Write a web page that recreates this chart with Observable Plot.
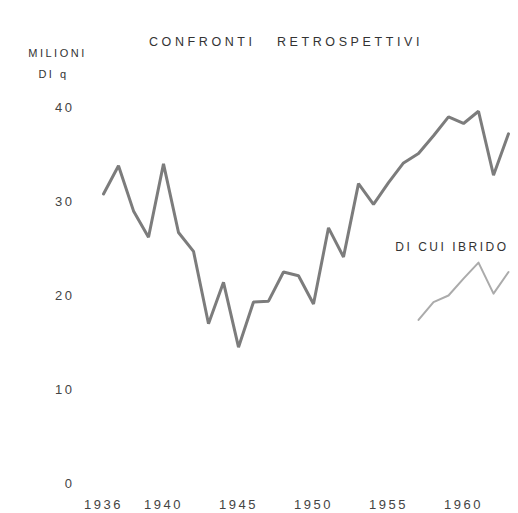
<!DOCTYPE html>
<html><head><meta charset="utf-8">
<script src="https://cdn.jsdelivr.net/npm/d3@7"></script>
<script src="https://cdn.jsdelivr.net/npm/@observablehq/plot@0.6"></script>
<style>
body{margin:0;background:#fff;}
svg text{letter-spacing:2.5px;}
svg .title text{letter-spacing:3.6px;}
</style>
</head><body>
<div id="chart"></div>
<script>
const years = [1936,1937,1938,1939,1940,1941,1942,1943,1944,1945,1946,1947,1948,1949,1950,1951,1952,1953,1954,1955,1956,1957,1958,1959,1960,1961,1962,1963];
const totale = [30.8,33.8,29.0,26.2,34.0,26.7,24.7,17.0,21.4,14.5,19.3,19.4,22.5,22.1,19.1,27.2,24.1,31.9,29.7,32.0,34.1,35.1,37.0,39.0,38.3,39.6,32.8,37.2];
const ibridoYears = [1957,1958,1959,1960,1961,1962,1963];
const ibrido = [17.4,19.3,20.0,21.8,23.5,20.2,22.5];
const xTicks = [1936,1940,1945,1950,1955,1960];
const yTicks = [0,10,20,30,40];
const title = "CONFRONTI\u00a0\u00a0\u00a0RETROSPETTIVI";
const unitLines = ["MILIONI", "DI q"];
const hybridLabel = "DI CUI IBRIDO";

const mainData = years.map((y,i)=>({year:y, value:totale[i]}));
const hybData = ibridoYears.map((y,i)=>({year:y, value:ibrido[i]}));
const lastHyb = hybData[hybData.length-1];
const maxHyb = d3.max(ibrido);

const chart = Plot.plot({
  width: 518,
  height: 513,
  marginLeft: 103,
  marginRight: 10,
  marginTop: 107,
  marginBottom: 30,
  style: {fontFamily: "'Liberation Sans', Arial, sans-serif", fontSize: "12px", color: "#444", background: "#fff"},
  x: {domain: [1936, 1963]},
  y: {domain: [0, 40]},
  marks: [
    Plot.axisX({ticks: xTicks, tickFormat: d => String(d), tickSize: 0, tickPadding: 16, fontSize: 13, label: null}),
    Plot.axisY({ticks: yTicks, tickSize: 0, tickPadding: 29, fontSize: 13, label: null}),
    Plot.line(mainData, {x: "year", y: "value", stroke: "#7c7c7c", strokeWidth: 3, strokeLinejoin: "miter"}),
    Plot.line(hybData, {x: "year", y: "value", stroke: "#ababab", strokeWidth: 2}),
    Plot.text([hybridLabel], {x: lastHyb.year, y: maxHyb, text: d => d, textAnchor: "end", dy: -15, fontSize: 12, fill: "#333"}),
    Plot.text([title], {frameAnchor: "top", text: d => d, dx: -20, dy: -70, fontSize: 12.5, fill: "#333", className: "title"}),
    Plot.text([unitLines[0]], {frameAnchor: "top-left", text: d => d, textAnchor: "middle", dx: -46, dy: -58, fontSize: 11, fill: "#333"}),
    Plot.text([unitLines[1]], {frameAnchor: "top-left", text: d => d, textAnchor: "middle", dx: -50, dy: -37, fontSize: 11, fill: "#333"})
  ]
});
document.getElementById("chart").appendChild(chart);
</script>
</body></html>
